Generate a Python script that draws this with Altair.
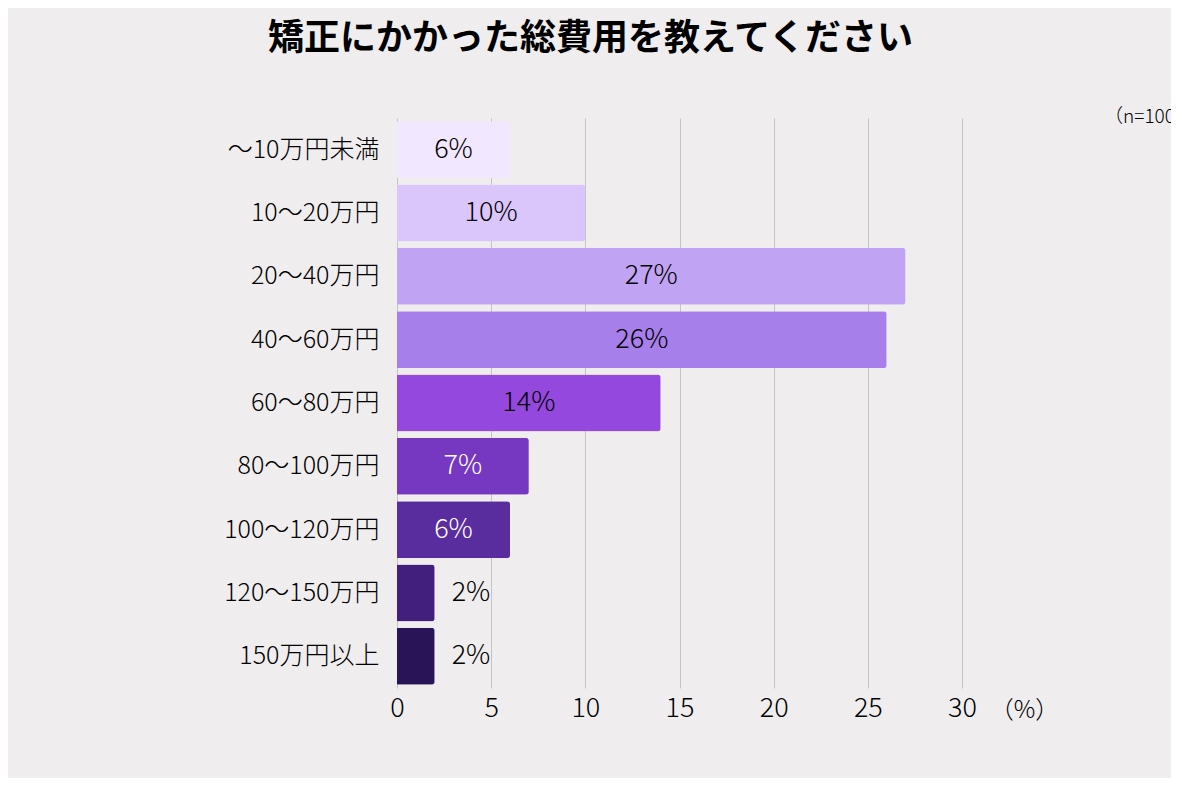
import altair as alt
import pandas as pd

categories = ["～10万円未満", "10～20万円", "20～40万円", "40～60万円", "60～80万円",
              "80～100万円", "100～120万円", "120～150万円", "150万円以上"]
values = [6, 10, 27, 26, 14, 7, 6, 2, 2]
palette = ["#F1E7FE", "#DAC6FB", "#C0A3F2", "#A77FEA", "#9448DE",
           "#7638C0", "#5A2D9E", "#421F7C", "#281456"]
white_label_cats = ["80～100万円", "100～120万円"]
x_ticks = [0, 5, 10, 15, 20, 25, 30]

df = pd.DataFrame({"cat": categories, "v": values})
df["label"] = df["v"].astype(str) + "%"

FONT = "Noto Sans CJK JP"
BG = "#EFEDEE"
W = 300
INK = "#000"

base = alt.Chart(df)

x_enc = alt.X("v:Q", scale=alt.Scale(domain=[0, 30], nice=False),
              axis=alt.Axis(values=x_ticks, grid=True, gridColor="#C4C4C4", gridWidth=1,
                            domain=False, ticks=False, labelFontSize=27, labelColor=INK,
                            labelPadding=7, labelFont=FONT, labelFlush=False,
                            labelFontWeight=W,
                            title="（%）", titleFont=FONT, titleFontSize=24,
                            titleFontWeight=W, titleColor=INK,
                            titleX=627, titleY=22, titleBaseline="middle",
                            titleAlign="center"))
y_enc = alt.Y("cat:N", sort=categories,
              scale=alt.Scale(paddingInner=0.1, paddingOuter=0.05),
              axis=alt.Axis(title=None, domain=False, ticks=False, labelFontSize=25,
                            labelColor=INK, labelPadding=18, labelFont=FONT,
                            labelFontWeight=W, labelLimit=300))

bars = base.mark_bar(cornerRadiusEnd=3).encode(
    x=x_enc,
    y=y_enc,
    color=alt.Color("cat:N", scale=alt.Scale(domain=categories, range=palette), legend=None),
)

inside = base.transform_filter("datum.v >= 5").transform_calculate(
    mid="datum.v / 2"
).mark_text(font=FONT, fontSize=27, fontWeight=W, align="center", baseline="middle").encode(
    x=alt.X("mid:Q"),
    y=alt.Y("cat:N", sort=categories),
    text="label:N",
    color=alt.condition(alt.FieldOneOfPredicate(field="cat", oneOf=white_label_cats),
                        alt.value("white"), alt.value(INK)),
)

outside = base.transform_filter("datum.v < 5").mark_text(
    font=FONT, fontSize=27, fontWeight=W, align="left", baseline="middle", dx=17,
    color=INK
).encode(
    x=alt.X("v:Q"),
    y=alt.Y("cat:N", sort=categories),
    text="label:N",
)

note = alt.Chart(pd.DataFrame({"t": ["（n=100）"]})).mark_text(
    font=FONT, fontSize=19, fontWeight=W, align="left", baseline="middle", color=INK
).encode(x=alt.value(707), y=alt.value(-1), text="t:N")

chart = alt.layer(bars, inside, outside, note).properties(
    width=565, height=570,
    padding={"left": 389, "top": 110, "right": 209, "bottom": 90},
    autosize=alt.AutoSizeParams(type="none"),
    background=BG,
    title=alt.TitleParams("矯正にかかった総費用を教えてください", font=FONT, fontSize=36,
                          fontWeight="bold", color=INK, anchor="middle", dx=-89,
                          offset=50),
).configure_view(stroke=None).configure_axis(labelFont=FONT)

chart.save("out.html", embed_options={"renderer": "svg", "actions": False})
